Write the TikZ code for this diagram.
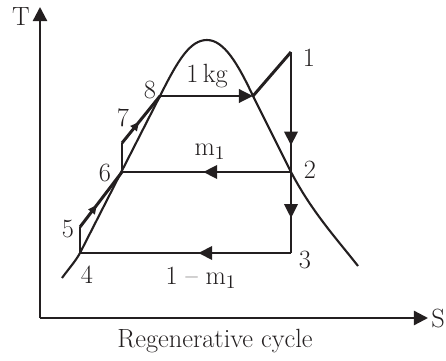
\documentclass[tikz,border=0pt]{standalone}
\usepackage{tikz}
\usetikzlibrary{arrows.meta,decorations.markings}
\definecolor{inkdark}{HTML}{231F20}

\begin{document}
\begin{tikzpicture}[x=0.02cm, y=-0.02cm,
  axis/.style={draw=inkdark, line width=1.3pt, -{Triangle[length=8pt,width=8pt]}},
  dome/.style={draw=inkdark, line width=1.2pt},
  cyc/.style={draw=inkdark, line width=1.7pt, line join=miter},
  midarr/.style={postaction={decorate}, decoration={markings, mark=at position #1 with {\arrow{Triangle[length=8pt,width=7.5pt]}}}},
  smallarr/.style={postaction={decorate}, decoration={markings, mark=at position #1 with {\arrow{Triangle[length=5pt,width=4.5pt]}}}},
  lbl/.style={font=\fontsize{15}{18}\selectfont, text=inkdark, inner sep=0pt}
]
  \useasboundingbox (0,0) rectangle (446,361);

  % axes
  \coordinate (origin) at (40,318);
  \coordinate (ttop) at (40,7);
  \coordinate (sright) at (428,318);
  \draw[axis] (origin) -- (ttop);
  \draw[axis] (origin) -- (sright);
  \node[lbl] (tlabel) at (21,17) {T};
  \node[lbl] (slabel) at (438,318) {S};
  \node[lbl] (caption) at (215,341) {Regenerative cycle};

  % state points
  \coordinate (p1) at (291,52);
  \coordinate (p2) at (291,172);
  \coordinate (p3) at (291,253);
  \coordinate (p4) at (80,253);
  \coordinate (p5) at (80,227);
  \coordinate (p6) at (122,172);
  \coordinate (p7) at (122,143);
  \coordinate (p8) at (160,96);
  \coordinate (pa) at (253,96);
  \coordinate (ptop) at (207,40);

  % saturation dome
  \draw[dome] (62,278) .. controls (70,267) and (75,262) .. (p4) -- (p8)
    .. controls (178,60) and (190,40) .. (ptop)
    .. controls (224,40) and (238,64) .. (pa) -- (p2)
    .. controls (312,212) and (336,238) .. (358,266);

  % cycle
  \draw[cyc, -{Triangle[length=8pt,width=7.5pt]}] (p8) -- (pa);
  \draw[cyc] (pa) -- (p1);
  \draw[cyc, midarr=0.78] (p1) -- (p2);
  \draw[cyc, midarr=0.57] (p2) -- (p3);
  \draw[cyc, midarr=0.52] (p2) -- (p6);
  \draw[cyc, midarr=0.44] (p3) -- (p4);
  \draw[cyc] (p4) -- (p5);
  \draw[cyc, smallarr=0.4] (p5) -- (p6);
  \draw[cyc] (p6) -- (p7);
  \draw[cyc, smallarr=0.45] (p7) -- (p8);

  % labels
  \node[lbl] (l1) at (309,58) {1};
  \node[lbl] (l2) at (310,170) {2};
  \node[lbl] (l3) at (305,260) {3};
  \node[lbl] (l4) at (87,275) {4};
  \node[lbl] (l5) at (68,229) {5};
  \node[lbl] (l6) at (105,173) {6};
  \node[lbl] (l7) at (123,118) {7};
  \node[lbl] (l8) at (150,90) {8};
  \node[lbl] (lkg) at (207,76) {1\,kg};
  \node[lbl] (lm) at (210,152) {m$_1$};
  \node[lbl] (lrest) at (201,278) {1 -- m$_1$};
\end{tikzpicture}
\end{document}
